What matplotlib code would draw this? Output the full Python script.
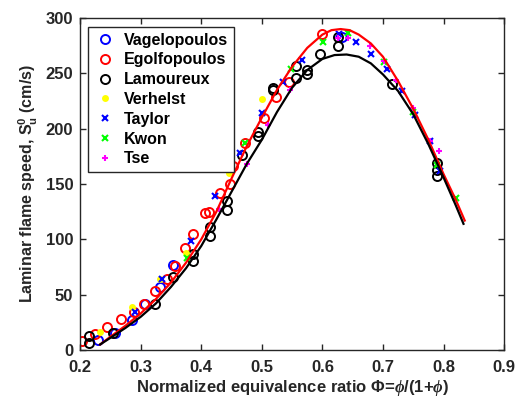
import matplotlib
matplotlib.use("Agg")
import matplotlib.pyplot as plt

plt.rcParams.update({
    "font.family": "Liberation Sans",
    "font.weight": "bold",
    "mathtext.fontset": "custom",
    "mathtext.rm": "Liberation Sans:bold",
    "mathtext.it": "Liberation Serif:italic",
    "mathtext.bf": "Liberation Sans:bold",
})

# measured points
vag_x = [0.230, 0.258, 0.286, 0.307, 0.332, 0.354, 0.633]
vag_y = [9, 15, 27, 42, 57, 77, 283]

ego_x = [0.203, 0.225, 0.244, 0.267, 0.289, 0.305, 0.324, 0.343, 0.357, 0.373,
         0.386, 0.406, 0.412, 0.431, 0.448, 0.453, 0.472, 0.503, 0.524, 0.545, 0.599]
ego_y = [8, 14.5, 21, 28, 34, 42, 53, 64, 76, 92,
         105, 123.5, 125, 142, 150, 166, 187, 210, 229, 242, 285.5]

lam_x = [0.215, 0.215, 0.255, 0.324, 0.354, 0.387, 0.387, 0.415, 0.415, 0.442, 0.442,
         0.467, 0.493, 0.493, 0.518, 0.518, 0.556, 0.556, 0.574, 0.574, 0.596,
         0.625, 0.625, 0.715, 0.790, 0.790, 0.790]
lam_y = [12.5, 6, 15, 42, 66, 87, 80, 111, 103, 135, 126.5,
         176, 197, 193, 237, 235, 256.5, 246, 253, 249, 267.5,
         282.5, 275, 240, 169, 163, 157]

ver_x = [0.232, 0.285, 0.332, 0.375, 0.445, 0.501]
ver_y = [16, 39, 64, 88, 160, 226.5]

tay_x = [0.291, 0.335, 0.383, 0.423, 0.464, 0.500, 0.535, 0.567, 0.628, 0.656,
         0.681, 0.706, 0.731, 0.753, 0.778, 0.794]
tay_y = [34.5, 64, 98.5, 139.5, 178, 214, 242, 262, 285.5, 278,
         267.5, 253.5, 234, 212, 189, 162]

kwo_x = [0.376, 0.472, 0.548, 0.601, 0.643, 0.701, 0.750, 0.790, 0.820]
kwo_y = [83, 187, 253.5, 278.5, 286, 260, 215, 167, 137]

tse_x = [0.430, 0.475, 0.511, 0.547, 0.625, 0.643, 0.678, 0.702, 0.722, 0.750, 0.778, 0.792]
tse_y = [127, 168.5, 203, 235, 281.5, 281.5, 275, 261.5, 244, 219, 189, 180]

# fitted curves
fit_red_x = [0.233, 0.25, 0.275, 0.30, 0.325, 0.35, 0.375, 0.40, 0.425, 0.45, 0.475,
             0.50, 0.525, 0.55, 0.575, 0.60, 0.615, 0.63, 0.645, 0.66, 0.68, 0.70,
             0.725, 0.75, 0.775, 0.80, 0.82, 0.835]
fit_red_y = [5, 12, 22, 33, 46, 61, 79, 100, 125, 155, 184,
             210, 235, 256, 273, 285, 289, 290, 289, 285, 277, 265,
             243, 218, 190, 159, 136, 117]

fit_blk_x = [0.233, 0.25, 0.275, 0.30, 0.325, 0.35, 0.375, 0.40, 0.425, 0.45, 0.475,
             0.50, 0.525, 0.55, 0.575, 0.60, 0.62, 0.64, 0.66, 0.68, 0.70,
             0.725, 0.75, 0.775, 0.80, 0.82, 0.833]
fit_blk_y = [5, 11, 20, 30, 42, 57, 74, 94, 118, 143, 168,
             190, 215, 237, 253, 263, 266.5, 267, 265, 259, 249,
             234, 213, 186, 156, 131, 114]

fig = plt.figure(figsize=(5.17, 3.98), dpi=100)
ax = fig.add_axes([0.155, 0.1206, 0.82, 0.8342])

ms = 6.5
mew = 1.4
ax.plot(vag_x, vag_y, 'o', mfc='none', mec='#0000ff', ms=ms, mew=mew, label='Vagelopoulos')
ax.plot(ego_x, ego_y, 'o', mfc='none', mec='#ff0000', ms=ms, mew=mew, label='Egolfopoulos')
ax.plot(lam_x, lam_y, 'o', mfc='none', mec='black', ms=ms, mew=mew, label='Lamoureux')
ax.plot(ver_x, ver_y, 'o', color='#ffff00', ms=5, mew=0, label='Verhelst')
ax.plot(tay_x, tay_y, 'x', color='#0000ff', ms=4, mew=1.5, label='Taylor')
ax.plot(kwo_x, kwo_y, 'x', color='#00ff00', ms=4, mew=1.5, label='Kwon')
ax.plot(tse_x, tse_y, '+', color='#ff00ff', ms=5, mew=1.5, label='Tse')

ax.plot(fit_red_x, fit_red_y, '-', color='#ff0000', lw=1.6)
ax.plot(fit_blk_x, fit_blk_y, '-', color='black', lw=1.6)

ax.set_xlim(0.2, 0.9)
ax.set_ylim(0, 300)
ax.set_xticks([0.2, 0.3, 0.4, 0.5, 0.6, 0.7, 0.8, 0.9])
ax.set_xticklabels(['0.2', '0.3', '0.4', '0.5', '0.6', '0.7', '0.8', '0.9'])
ax.set_yticks([0, 50, 100, 150, 200, 250, 300])
ax.tick_params(direction='in', top=True, right=True, length=4, width=1,
               labelsize=12, colors='#262626')
ax.tick_params(axis='x', pad=7)
ax.tick_params(axis='y', pad=5)
for s in ax.spines.values():
    s.set_linewidth(1)
    s.set_color('#262626')

ax.set_xlabel(r'Normalized equivalence ratio $\Phi$=$\it{\phi}$/(1+$\it{\phi}$)',
              fontsize=12, fontweight='bold', color='#262626', labelpad=2)
ax.set_ylabel(r'Laminar flame speed, $\mathrm{S_u^0}$ (cm/s)',
              fontsize=11.5, fontweight='bold', color='#262626', labelpad=4)

leg = ax.legend(loc='upper left', bbox_to_anchor=(0.019, 0.973), fontsize=11.5,
                frameon=True, fancybox=False, edgecolor='#262626', framealpha=1,
                handlelength=1.4, handletextpad=0.5, borderpad=0.35,
                labelspacing=0.3, borderaxespad=0)
leg.get_frame().set_linewidth(1)
for t in leg.get_texts():
    t.set_color('black')
    t.set_fontweight('bold')

fig.savefig('out.png', dpi=100)
